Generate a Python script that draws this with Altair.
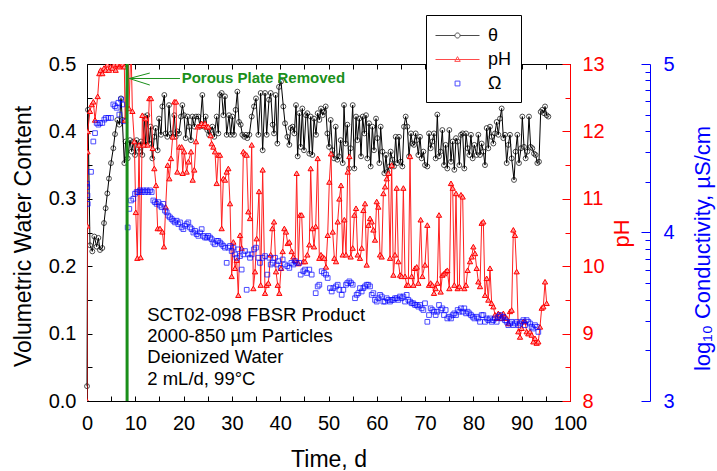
import altair as alt
import pandas as pd

# ---------------- data ----------------
theta_day = [0.0, 0.2, 0.62, 1.10, 1.52, 2.0, 2.35, 2.69, 3.17, 3.52, 3.86, 4.21, 4.55, 4.97, 5.45, 5.8, 6.28, 6.69,
             7.04, 7.31, 7.73, 8.0, 8.42, 8.9, 9.25, 9.6, 9.94, 10.28, 10.77, 11.18, 11.46, 11.87, 12.15, 12.49, 12.84,
             13.18, 13.53, 13.94, 14.22, 14.63, 14.91, 15.32, 15.6, 16.01, 16.29, 16.63, 16.98, 17.39, 17.67, 18.08,
             18.36, 18.7, 19.05, 19.46, 19.74, 20.08, 20.43, 20.84, 21.12, 21.53, 21.81, 22.22, 22.57, 23.05, 23.4,
             23.88, 24.22, 24.57, 24.91, 25.26, 25.67, 25.95, 26.36, 26.85, 27.19, 27.54, 27.88, 28.23, 28.57, 28.92,
             29.4, 29.75, 30.09, 30.44, 30.78, 31.13, 31.47, 31.82, 32.16, 32.57, 32.92, 33.19, 33.61,
             34.1, 34.58, 34.99, 35.48, 35.96, 36.37, 36.86, 37.2, 37.68, 38.03, 38.44, 38.72, 39.06, 39.41, 39.75,
             40.17, 40.65, 41.0, 41.48, 41.89, 42.17, 42.58, 42.93, 43.27, 43.62, 43.96, 44.24, 44.58, 44.93, 45.34,
             45.62, 46.03, 46.31, 46.66, 47.0, 47.42, 47.76, 48.1, 48.45, 48.79, 49.07, 49.42, 49.76, 50.11, 50.45,
             50.8, 51.14, 51.49, 51.83, 52.18, 52.52, 52.94, 53.21, 53.56, 53.9, 54.25, 54.59, 55.01, 55.35, 55.7,
             55.97, 56.39, 56.73, 57.08, 57.42, 57.77, 58.04, 58.39, 58.73, 59.08, 59.42, 59.84, 60.11, 60.53, 60.8,
             61.15, 61.56, 61.91, 62.18, 62.6, 62.87, 63.22, 63.56, 63.91, 64.25, 64.6, 64.94, 65.29, 65.63, 65.98,
             66.32, 66.67, 67.08, 67.36, 67.7, 68.05,
             68.26, 68.6, 68.95, 69.29, 69.64, 69.98, 70.46, 70.81, 71.15, 71.5, 71.84, 72.19, 72.53, 72.88, 73.22,
             73.57, 73.91, 74.26, 74.6, 75.02, 75.36, 75.71, 76.05, 76.4, 76.74, 77.09, 77.43, 77.78, 78.12, 78.47,
             78.81, 79.16, 79.5, 79.85, 80.19, 80.68, 81.02, 81.37, 81.71, 82.06, 82.4, 82.75, 83.09, 83.44, 83.78,
             84.13, 84.47, 84.82, 85.16, 85.51, 85.85, 86.2, 86.54, 86.89, 87.23, 87.58, 87.92, 88.41, 88.75, 89.1,
             89.44, 89.86, 90.13, 90.48, 90.82, 91.17, 91.51, 91.86, 92.2, 92.55, 92.89, 93.24, 93.58, 93.93, 94.27,
             94.62, 94.83, 95.17, 95.52]
theta_val = [0.022, 0.432, 0.231, 0.222, 0.244, 0.229, 0.242, 0.224, 0.227, 0.264, 0.286, 0.308, 0.330, 0.353, 0.375,
             0.396, 0.417, 0.410, 0.449, 0.417, 0.353, 0.385, 0.360, 0.387, 0.370, 0.385, 0.365, 0.387, 0.370, 0.385,
             0.365, 0.422, 0.380, 0.424, 0.382, 0.407, 0.360, 0.392, 0.405, 0.372, 0.419, 0.395, 0.437, 0.454, 0.397,
             0.392, 0.439, 0.397, 0.392, 0.424, 0.392, 0.400, 0.397, 0.422, 0.439, 0.424, 0.390, 0.422, 0.407, 0.387,
             0.422, 0.407, 0.422, 0.422, 0.407, 0.454, 0.407, 0.422, 0.402, 0.395, 0.402, 0.407, 0.392, 0.422, 0.397,
             0.454, 0.457, 0.424, 0.452, 0.395, 0.424, 0.395, 0.422, 0.395, 0.432, 0.459, 0.414, 0.410, 0.395, 0.392,
             0.395, 0.390, 0.395,
             0.422, 0.437, 0.449, 0.395, 0.457, 0.372, 0.457, 0.395, 0.447, 0.457, 0.410, 0.397, 0.454, 0.382, 0.466,
             0.474, 0.437, 0.412, 0.392, 0.380, 0.405, 0.407, 0.397, 0.439, 0.363, 0.427, 0.377, 0.434, 0.372, 0.424,
             0.427, 0.367, 0.422, 0.365, 0.419, 0.395, 0.427, 0.417, 0.434, 0.424, 0.429, 0.437, 0.397, 0.377, 0.417,
             0.372, 0.360, 0.407, 0.358, 0.363, 0.387, 0.353, 0.439, 0.382, 0.410, 0.345, 0.375, 0.439, 0.345, 0.422,
             0.387, 0.419, 0.363, 0.422, 0.397, 0.424, 0.360, 0.412, 0.348, 0.407, 0.372, 0.419, 0.390, 0.353, 0.407,
             0.370, 0.338, 0.365, 0.340, 0.348, 0.370, 0.358, 0.348, 0.392, 0.353, 0.392, 0.355, 0.348, 0.407, 0.422,
             0.407, 0.363, 0.397, 0.382, 0.380, 0.397,
             0.387, 0.365, 0.392, 0.360, 0.370, 0.350, 0.348, 0.397, 0.375, 0.385, 0.397, 0.360, 0.425, 0.363, 0.370,
             0.402, 0.350, 0.380, 0.345, 0.402, 0.355, 0.385, 0.343, 0.390, 0.385, 0.350, 0.395, 0.397, 0.345, 0.397,
             0.375, 0.365, 0.395, 0.360, 0.380, 0.365, 0.395, 0.365, 0.382, 0.370, 0.350, 0.405, 0.375, 0.407, 0.392,
             0.382, 0.397, 0.414, 0.395, 0.419, 0.434, 0.390, 0.395, 0.353, 0.380, 0.395, 0.360, 0.328, 0.370, 0.395,
             0.353, 0.375, 0.422, 0.377, 0.360, 0.370, 0.422, 0.377, 0.375, 0.367, 0.365, 0.353, 0.355, 0.429, 0.432,
             0.427, 0.437, 0.424, 0.422]

ph_day = [0.0, 0.05, 0.1, 0.15, 0.62, 0.97, 1.31, 1.66, 2.21, 2.55, 2.83, 3.17, 3.52, 3.86, 4.21, 4.55, 4.9, 5.25,
          5.59, 5.93, 6.28, 6.69, 7.04, 7.38, 7.73, 7.9, 8.5, 8.7, 9.1, 9.4, 9.8, 10.1, 10.42, 10.77, 11.11, 11.46,
          11.8, 12.2, 12.56, 12.9, 13.25, 13.6, 13.94, 14.29, 14.63, 15.11, 15.6, 15.94, 16.29, 16.7, 17.05, 17.39,
          17.74, 18.08, 18.43, 18.7, 19.12, 19.6, 19.81, 20.15, 20.63, 20.98, 21.53, 21.88, 22.22, 22.57, 22.91,
          23.39, 23.74, 24.09, 24.43, 24.78, 25.12, 25.6, 25.81, 26.16, 26.5, 26.85, 27.19, 27.54, 27.88, 28.23,
          28.57, 28.92, 29.26, 29.61, 29.95, 30.3, 30.64, 30.99, 31.33, 31.68, 32.02, 32.37, 32.71, 33.06, 33.4,
          33.75,
          34.1, 34.44, 34.79, 35.13, 35.61, 35.96, 36.37, 36.86, 37.2, 37.55, 38.03, 38.37, 38.72, 39.13, 39.48,
          39.82, 40.17, 40.51, 40.86, 41.2, 41.55, 41.89, 42.38, 42.72, 43.07, 43.41, 43.76, 44.1, 44.45, 44.79,
          45.14, 45.62, 46.03, 46.31, 46.66, 47.0, 47.35, 47.76, 48.1, 48.45, 48.79, 49.14, 49.48, 49.83, 50.17,
          50.52, 50.87, 51.21, 51.56, 51.9, 52.25, 52.59, 52.94, 53.28, 53.63, 53.97, 54.32, 54.59, 55.01, 55.35,
          55.7, 56.04, 56.52, 56.87, 57.22, 57.56, 57.9, 58.25, 58.6, 58.94, 59.29, 59.63, 59.98, 60.32, 60.67,
          61.01, 61.36, 61.7, 62.05, 62.39, 62.74, 63.08, 63.43, 63.77, 64.12, 64.46, 64.81, 65.15, 65.5, 65.84,
          66.19, 66.53, 66.88, 67.22, 67.57, 67.91,
          68.26, 68.6, 69.08, 69.43, 69.98, 70.46, 70.81, 71.15, 71.5, 71.84, 72.19, 72.53, 72.88, 73.22, 73.57,
          73.91, 74.26, 74.6, 75.02, 75.36, 75.71, 76.05, 76.4, 76.74, 77.09, 77.43, 77.78, 78.12, 78.47, 78.81,
          79.3, 79.64, 79.99, 80.33, 80.68, 81.02, 81.37, 81.71, 82.06, 82.4, 82.75, 83.09, 83.44, 83.78, 84.13,
          84.47, 84.82, 85.16, 85.51, 85.85, 86.2, 86.54, 86.89, 87.23, 87.58, 87.92, 88.27, 88.61, 88.96, 89.3,
          89.65, 89.99, 90.34, 90.68, 91.03, 91.37, 91.72, 92.06, 92.41, 92.75, 93.1, 93.44, 93.79, 94.14, 94.48,
          94.83, 95.17]
ph_val = [8.0, 10.6, 11.7, 12.0, 12.3, 12.4, 12.44, 12.17, 12.52, 12.86, 12.91, 12.86, 12.94, 12.91, 12.99, 12.91,
          12.96, 12.94, 12.99, 12.91, 13.0, 12.96, 12.99, 13.0, 12.96, 12.17, 13.3, 12.34, 13.3, 12.3, 11.85, 10.8,
          10.12, 11.80, 10.13, 12.24, 11.80, 12.19, 11.80, 12.49, 12.49, 11.75, 11.45, 11.20, 10.56, 10.56, 10.51,
          10.29, 10.88, 11.50, 11.30, 11.60, 11.92, 12.44, 12.44, 11.40, 11.77, 11.77, 11.38, 11.70, 11.40, 11.55,
          11.70, 11.28, 11.43, 11.85, 12.07, 12.09, 12.12, 12.09, 12.12, 12.07, 12.07, 11.94, 11.82, 11.77, 11.70,
          11.23, 11.65, 11.65, 10.56, 11.30, 11.28, 11.40, 11.45, 10.93, 9.85, 10.36, 9.97, 10.09, 9.57, 10.46,
          10.27, 11.70, 11.67, 11.65, 10.81, 10.71,
          11.80, 9.67, 9.92, 10.41, 11.11, 9.72, 11.43, 9.60, 9.72, 9.75, 10.17, 10.56, 10.66, 9.92, 9.72, 9.60,
          9.97, 10.22, 10.56, 10.51, 10.34, 10.36, 10.22, 10.14, 10.09, 11.38, 10.04, 10.76, 10.76, 10.07, 10.07,
          10.17, 10.32, 11.45, 10.56, 10.29, 10.59, 11.60, 10.12, 10.17, 10.14, 10.12, 9.99, 10.46, 11.25, 11.67,
          10.51, 10.12, 10.07, 10.66, 11.0, 11.20, 10.17, 10.69, 10.17, 11.40, 11.63, 10.14, 10.27, 10.76, 10.86,
          10.17, 10.12, 10.27, 10.83, 10.93, 10.02, 10.61, 10.71, 10.66, 10.54, 10.39, 10.96, 10.88, 10.17, 10.14,
          11.08, 11.18, 11.30, 11.38, 10.12, 11.50, 9.87, 10.17, 11.16, 10.07, 9.87, 9.85, 11.16, 9.85, 9.72, 9.72,
          11.63, 9.85, 9.72, 9.97,
          9.99, 9.75, 10.69, 9.85, 10.02, 10.61, 9.72, 9.75, 9.72, 9.60, 9.67, 9.75, 10.76, 9.62, 9.87, 9.89, 9.92,
          9.94, 9.67, 11.23, 11.16, 9.72, 11.08, 9.67, 9.70, 11.06, 11.03, 9.67, 9.72, 9.94, 10.07, 10.14, 10.29,
          10.19, 9.97, 9.77, 9.70, 10.64, 10.66, 9.57, 9.82, 9.50, 9.97, 9.45, 9.40, 9.28, 9.23, 9.30, 9.28, 9.23,
          9.30, 9.25, 9.23, 9.15, 9.33, 9.35, 10.54, 10.46, 9.92, 9.03, 8.95, 9.08, 9.18, 9.18, 9.03, 9.00, 9.03,
          8.98, 8.88, 8.93, 8.86, 8.88, 9.10, 9.38, 9.40, 9.77, 9.45]

cond_day = [0.0, 0.05, 0.1, 0.15, 0.83, 1.31, 1.66, 2.0, 2.35, 2.69, 3.17, 3.59, 3.93, 4.42, 4.97, 5.45, 5.8, 6.14,
            6.49, 6.69, 7.04, 7.31, 7.66, 8.42, 8.76, 9.11, 9.59, 9.94, 10.28, 10.63, 10.97, 11.32, 11.66, 12.01,
            12.35, 12.7, 13.04, 13.39, 13.73, 14.08, 14.42, 14.77, 15.11, 15.46, 15.8, 16.15, 16.49, 16.84, 17.18,
            17.53, 17.87, 18.22, 18.56, 18.91, 19.26, 19.6, 19.95, 20.29, 20.64, 20.98, 21.33, 21.67, 22.02, 22.36,
            22.71, 23.05, 23.4, 23.74, 24.09, 24.43, 24.78, 25.12, 25.47, 25.81, 26.16, 26.5, 26.85, 27.19, 27.54,
            27.88, 28.23, 28.57, 28.92, 29.26, 29.61, 29.95, 30.3, 30.64, 30.99, 31.33, 31.68, 32.02, 32.37, 32.71,
            33.06, 33.4, 33.75,
            34.1, 34.58, 34.99, 35.48, 35.82, 36.37, 36.86, 37.34, 37.75, 38.03, 38.44, 38.93, 39.27, 39.62, 40.1,
            40.51, 40.99, 41.48, 41.89, 42.31, 42.72, 43.07, 43.41, 43.96, 44.24, 44.79, 45.14, 45.48, 46.03, 46.52,
            47.35, 47.76, 48.1, 48.59, 49.07, 49.48, 49.83, 50.31, 50.66, 51.0, 51.56, 51.9, 52.25, 52.73, 53.07,
            53.63, 53.9, 54.32, 54.66, 55.01, 55.49, 55.83, 56.18, 56.52, 56.87, 57.22, 57.56, 57.9, 58.25, 58.6,
            58.94, 59.29, 59.63, 59.98, 60.32, 60.67, 61.01, 61.36, 61.7, 62.05, 62.39, 62.74, 63.08, 63.43, 63.77,
            64.12, 64.46, 64.81, 65.15, 65.5, 65.84, 66.19, 66.53, 66.88, 67.22, 67.57, 67.91,
            68.26, 68.6, 68.95, 69.29, 69.64, 69.98, 70.46, 70.81, 71.15, 71.5, 71.84, 72.19, 72.53, 72.88, 73.22,
            73.57, 73.91, 74.26, 74.6, 75.02, 75.36, 75.71, 76.05, 76.4, 76.74, 77.09, 77.43, 77.78, 78.12, 78.47,
            78.81, 79.16, 79.5, 79.85, 80.19, 80.68, 81.02, 81.37, 81.71, 82.06, 82.4, 82.75, 83.09, 83.44, 83.78,
            84.13, 84.47, 84.82, 85.16, 85.51, 85.85, 86.2, 86.54, 86.89, 87.23, 87.58, 87.92, 88.27, 88.61, 88.96,
            89.3, 89.65, 89.99, 90.34, 90.68, 91.03, 91.37, 91.72, 92.06, 92.41, 92.75, 93.1, 93.44]
cond_log = [4.29, 4.27, 4.22, 4.17, 4.36, 4.54, 4.59, 4.65, 4.64, 4.65, 4.65, 4.67, 4.68, 4.68, 4.68, 4.76, 4.75,
            4.74, 4.77, 4.70, 4.79, 4.76, 4.66, 4.03, 4.14, 4.19, 4.20, 4.23, 4.24, 4.24, 4.25, 4.24, 4.25, 4.24,
            4.25, 4.24, 4.25, 4.24, 4.19, 4.18, 4.17, 4.18, 4.16, 4.15, 4.17, 4.13, 4.12, 4.10, 4.09, 4.08, 4.07,
            4.06, 4.07, 4.05, 4.06, 4.03, 4.02, 4.04, 4.05, 4.06, 4.03, 4.02, 4.00, 4.01, 3.99, 3.98, 4.00, 4.02,
            3.98, 3.97, 3.97, 3.98, 3.97, 3.96, 3.94, 3.93, 3.95, 3.95, 3.94, 3.93, 3.92, 3.91, 3.82, 3.91, 3.92,
            3.89, 3.91, 3.87, 3.85, 3.90, 3.86, 3.78, 3.87, 3.89, 3.66, 3.87, 3.85,
            3.87, 3.90, 3.91, 3.85, 3.82, 3.85, 3.86, 3.75, 3.85, 3.81, 3.82, 3.85, 3.81, 3.83, 3.79, 3.84, 3.81,
            3.80, 3.79, 3.82, 3.81, 3.83, 3.82, 3.82, 3.75, 3.77, 3.78, 3.76, 3.78, 3.75, 3.64, 3.68, 3.69, 3.77,
            3.76, 3.75, 3.73, 3.67, 3.65, 3.67, 3.68, 3.69, 3.66, 3.63, 3.66, 3.69, 3.70, 3.71, 3.70, 3.69, 3.61,
            3.63, 3.64, 3.67, 3.65, 3.67, 3.68, 3.69, 3.69, 3.68, 3.63, 3.64, 3.60, 3.59, 3.61, 3.63, 3.62, 3.59,
            3.59, 3.61, 3.60, 3.59, 3.60, 3.60, 3.61, 3.61, 3.60, 3.62, 3.61, 3.62, 3.59, 3.63, 3.60, 3.59, 3.58,
            3.58, 3.57,
            3.57, 3.56, 3.57, 3.55, 3.54, 3.58, 3.47, 3.51, 3.55, 3.54, 3.53, 3.51, 3.53, 3.57, 3.54, 3.55, 3.51,
            3.54, 3.49, 3.50, 3.49, 3.51, 3.52, 3.51, 3.54, 3.53, 3.55, 3.53, 3.55, 3.52, 3.53, 3.52, 3.51, 3.50,
            3.49, 3.50, 3.49, 3.47, 3.51, 3.51, 3.47, 3.49, 3.48, 3.49, 3.47, 3.48, 3.49, 3.47, 3.50, 3.51, 3.49,
            3.50, 3.48, 3.47, 3.45, 3.46, 3.47, 3.45, 3.46, 3.47, 3.45, 3.46, 3.47, 3.48, 3.45, 3.48, 3.47, 3.46,
            3.44, 3.43, 3.45, 3.44, 3.41]

plate_day = [8.3]
arrow_x = [8.75, 8.75, 8.75]
arrow_y = [0.4785, 0.4785, 0.4785]
arrow_x2 = [19.25, 13.0, 13.0]
arrow_y2 = [0.4785, 0.4866, 0.4688]
plate_label = ["Porous Plate Removed"]
plate_label_x = [19.6]
plate_label_y = [0.4785]
note_lines = ["SCT02-098 FBSR Product", "2000-850 \u00b5m Particles", "Deionized Water", "2 mL/d, 99\u00b0C"]
note_x = [12.48]
note_y = [0.119]

series_names = ["\u03b8", "pH", "\u03a9"]
series_colors = ["black", "red", "blue"]
series_paths = [
    "M-1,0H0.77M1.23,0H3M1.23,0A0.23,0.23,0,1,1,0.77,0A0.23,0.23,0,1,1,1.23,0Z",
    "M-1,0H3M1,-0.26L1.25,0.17L0.75,0.17Z",
    "M0.78,-0.22H1.22V0.22H0.78Z",
]

x_ticks = list(range(0, 101, 5))
theta_ticks = [round(0.05 * i, 2) for i in range(11)]
ph_ticks = [8 + 0.5 * i for i in range(11)]
cond_ticks = [m * 10 ** e for e in (3, 4) for m in range(1, 10)] + [100000]

# ---------------- layout constants ----------------
W, H = 483, 337
FONT = "Liberation Sans"
GREEN = "#1a8f1a"

theta_df = pd.DataFrame({"day": theta_day, "theta": theta_val})
ph_df = pd.DataFrame({"day": ph_day, "ph": ph_val})
cond_df = pd.DataFrame({"day": cond_day, "logc": cond_log})
plate_df = pd.DataFrame({"day": plate_day})
arrow_df = pd.DataFrame({"x": arrow_x, "y": arrow_y, "x2": arrow_x2, "y2": arrow_y2})
label_df = pd.DataFrame({"x": plate_label_x, "y": plate_label_y, "t": plate_label})
note_df = pd.DataFrame({"x": note_x, "y": note_y})

x_scale = alt.Scale(domain=[0, 100], nice=False, zero=False)
theta_scale = alt.Scale(domain=[0, 0.5], nice=False, zero=False)
ph_scale = alt.Scale(domain=[8, 13], nice=False, zero=False)
cond_scale = alt.Scale(type="log", domain=[1000, 100000], nice=False)

x_bottom = alt.Axis(orient="bottom", values=x_ticks, labelExpr="datum.value % 10 === 0 ? datum.label : ''",
                    tickSize=5, offset=-5, domain=False, tickColor="black", labelFontSize=20, labelPadding=12,
                    labelColor="black", labelFlush=False, labelOverlap=False, grid=False,
                    title="Time, d", titleFontSize=23, titleFontWeight="normal", titleY=63,
                    titleBaseline="middle", titleColor="black")
x_top = alt.Axis(orient="top", values=x_ticks, labels=False, tickSize=5, offset=-5, domain=False,
                 tickColor="black", grid=False, title=None)
theta_axis = alt.Axis(orient="left", values=theta_ticks, format=".1f",
                      labelExpr="round(datum.value*100) % 10 === 0 ? datum.label : ''",
                      tickSize=5, offset=-5, domain=False, tickColor="black", labelFontSize=20, labelPadding=11,
                      labelColor="black", labelOverlap=False, labelFlush=False, grid=False,
                      title="Volumetric Water Content", titleFontSize=23, titleFontWeight="normal",
                      titleX=-69, titleY=172, titleAngle=270, titleBaseline="middle", titleAlign="center",
                      titleColor="black")
ph_axis = alt.Axis(orient="left", offset=-W, values=ph_ticks, format=".0f",
                   labelExpr="datum.value % 1 === 0 ? datum.label : ''",
                   tickSize={"condition": {"test": "datum.value % 1 === 0", "value": 8}, "value": 5},
                   domain=True, domainColor="red", tickColor="red", labelColor="red", labelFontSize=20,
                   labelAlign="left", labelPadding=-20, labelOverlap=False, labelFlush=False, grid=False,
                   title="pH", titleColor="red", titleFontSize=22, titleFontWeight="normal", titleX=51, titleY=169,
                   titleAngle=270, titleBaseline="middle", titleAlign="center")
cond_axis = alt.Axis(orient="left", offset=-(W + 80), values=cond_ticks,
                     labelExpr="datum.value == 1000 ? '3' : datum.value == 10000 ? '4' : datum.value == 100000 ? '5' : ''",
                     tickSize={"condition": {"test": "datum.value == 1000 || datum.value == 10000 || datum.value == 100000",
                                             "value": 9}, "value": 5},
                     domain=True, domainColor="blue", tickColor="blue", labelColor="blue",
                     labelFontSize=20, labelAlign="left", labelPadding=-22, labelOverlap=False, labelFlush=False,
                     grid=False, title="log\u2081\u2080 Conductivity, \u00b5S/cm", titleColor="blue", titleFontSize=22,
                     titleFontWeight="normal", titleX=52, titleY=184, titleAngle=270, titleBaseline="middle",
                     titleAlign="center")


def X(field, axis=None):
    return alt.X(field, scale=x_scale, axis=axis)


# ---------------- layers (flat) ----------------
theta_line = alt.Chart(theta_df).mark_line(color="black", strokeWidth=1).encode(
    x=X("day:Q", x_bottom),
    y=alt.Y("theta:Q", scale=theta_scale, axis=theta_axis),
)
theta_pts = alt.Chart(theta_df).mark_point(shape="circle", size=24, filled=False, color="black",
                                           strokeWidth=1).encode(
    x=X("day:Q"),
    y=alt.Y("theta:Q", scale=theta_scale, axis=None),
)
ph_line = alt.Chart(ph_df).mark_line(color="#ff2020", strokeWidth=1, clip=True).encode(
    x=X("day:Q"),
    y=alt.Y("ph:Q", scale=ph_scale, axis=ph_axis),
)
ph_pts = alt.Chart(ph_df).mark_point(shape="triangle-up", size=28, filled=True, fill="#ff9a9a", stroke="red",
                                     strokeWidth=1, clip=True, opacity=1).encode(
    x=X("day:Q"),
    y=alt.Y("ph:Q", scale=ph_scale, axis=None),
)
cond_pts = alt.Chart(cond_df).transform_calculate(cond="pow(10, datum.logc)").mark_point(
    shape="square", size=22, filled=False, color="blue", strokeWidth=1, clip=True).encode(
    x=X("day:Q"),
    y=alt.Y("cond:Q", scale=cond_scale, axis=cond_axis),
)
plate_rule = alt.Chart(plate_df).mark_rule(color=GREEN, strokeWidth=3).encode(
    x=X("day:Q", x_top),
)
arrow = alt.Chart(arrow_df).mark_rule(color=GREEN, strokeWidth=1).encode(
    x=X("x:Q"), x2="x2:Q",
    y=alt.Y("y:Q", scale=theta_scale, axis=None), y2="y2:Q",
)
plate_text = alt.Chart(label_df).mark_text(align="left", baseline="middle", font=FONT, fontSize=15,
                                            fontWeight="bold", color=GREEN).encode(
    x=X("x:Q"),
    y=alt.Y("y:Q", scale=theta_scale, axis=None),
    text="t:N",
)
note_text = alt.Chart(note_df).mark_text(align="left", baseline="alphabetic", font=FONT, fontSize=18.5,
                                          lineHeight=21.3, color="black", text=note_lines).encode(
    x=X("x:Q"),
    y=alt.Y("y:Q", scale=theta_scale, axis=None),
)

leg = alt.Legend(title=None, orient="none", legendX=339, legendY=-49, fillColor="white", strokeColor="black",
                 padding=9, symbolSize=484, symbolStrokeWidth=1, labelFontSize=18, labelFont=FONT,
                 labelOffset=30, rowPadding=3, labelColor="black", labelLimit=200)
legend_layer = alt.Chart(alt.Data(values=[])).mark_point(filled=False, size=484, strokeWidth=1).encode(
    color=alt.Color("series:N", scale=alt.Scale(domain=series_names, range=series_colors), legend=leg),
    shape=alt.Shape("series:N", scale=alt.Scale(domain=series_names, range=series_paths), legend=leg),
)

chart = alt.layer(theta_line, theta_pts, ph_line, ph_pts, cond_pts, plate_rule, arrow, plate_text, note_text,
                  legend_layer).resolve_scale(
    y="independent"
).resolve_axis(x="independent", y="independent").properties(
    width=W, height=H,
    autosize=alt.AutoSizeParams(type="none"),
    padding={"left": 87, "top": 64, "right": 147, "bottom": 70},
).configure_view(stroke="black", strokeWidth=1).configure_axis(
    labelFont=FONT, titleFont=FONT
).configure_legend(labelFont=FONT)

chart.save("out.html", embed_options={"renderer": "svg", "actions": False})
